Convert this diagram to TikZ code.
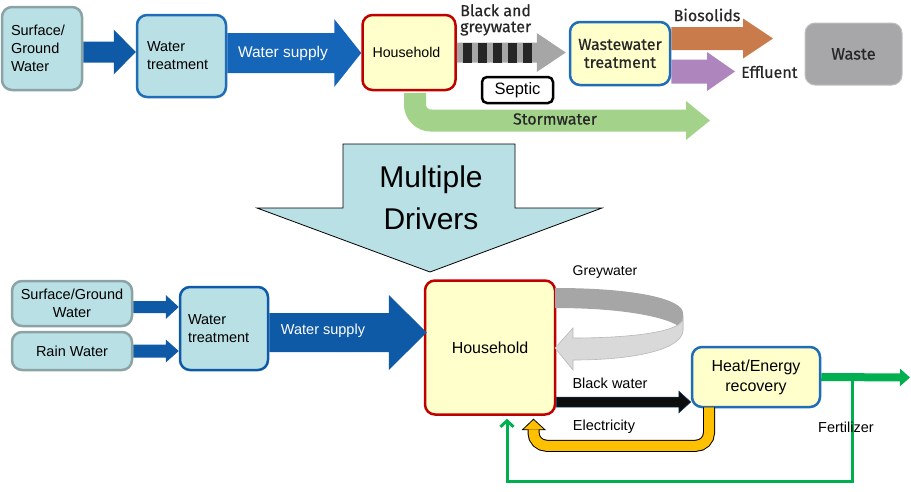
\documentclass[tikz,border=0pt]{standalone}
\usepackage{fontspec}
\setmainfont{Liberation Sans}
\newfontfamily\topfont{Fira Sans}[UprightFeatures={FakeBold=0.5}]
\usetikzlibrary{positioning,calc,arrows.meta}
\definecolor{boxblue}{HTML}{B9E0E4}
\definecolor{boxgray}{HTML}{8CA3A6}
\definecolor{lineblue}{HTML}{1E6DB6}
\definecolor{arrowblue}{HTML}{0F5AA6}
\definecolor{supplyblue}{HTML}{1565B8}
\definecolor{houseyellow}{HTML}{FFFFCC}
\definecolor{housered}{HTML}{C00000}
\definecolor{stormgreen}{HTML}{A3D28A}
\definecolor{bioorange}{HTML}{C97B4B}
\definecolor{efflpurple}{HTML}{AE85BD}
\definecolor{wastegray}{HTML}{A7A7A9}
\definecolor{greydark}{HTML}{A6A6A6}
\definecolor{greylight}{HTML}{D9D9D9}
\definecolor{elecyellow}{HTML}{FFC000}
\definecolor{fertgreen}{HTML}{00B050}
\definecolor{textdark}{HTML}{262626}
% block arrow: style, from, to, shaft half, head half, head length
\newcommand{\barrow}[6]{%
  \path[#1] let \p1=(#2), \p2=(#3) in
    (\x1,\y1+#4pt) -- (\x2-#6pt,\y1+#4pt) -- (\x2-#6pt,\y1+#5pt) -- (\x2,\y1)
    -- (\x2-#6pt,\y1-#5pt) -- (\x2-#6pt,\y1-#4pt) -- (\x1,\y1-#4pt) -- cycle;}

\begin{document}
\begin{tikzpicture}[x=1pt,y=-1pt]
\tikzstyle{box} = [draw, line width=2.5pt, rounded corners=10pt, inner sep=0pt, font=\fontsize{14.5}{18}\selectfont]
\tikzstyle{srcbox} = [box, draw=boxgray, fill=boxblue]
\tikzstyle{treatbox} = [box, draw=lineblue, fill=boxblue]
\tikzstyle{housebox} = [box, draw=housered, fill=houseyellow]
\tikzstyle{lbl} = [inner sep=0pt, font=\fontsize{14.5}{18}\selectfont]
\tikzstyle{toplbl} = [inner sep=0pt, font=\topfont\fontsize{16}{16}\selectfont, text=textdark]
\useasboundingbox (0,0) rectangle (911,491);

% current system
\node[srcbox, text width=62pt, inner xsep=9pt, minimum height=83pt, align=left] (sgw) at (42,48.5) {Surface/\\Ground\\Water};
\node[treatbox, text width=69pt, inner xsep=10pt, minimum height=82pt, align=left] (treat) at (181.5,56) {Water\\treatment\\[4pt]};
\node[housebox, text width=73pt, inner xsep=10pt, minimum height=75pt, align=left, font=\fontsize{14.2}{18}\selectfont] (house) at (409,52.5) {Household};
\node[box, draw=lineblue, fill=houseyellow, minimum width=100pt, minimum height=63pt, align=center, font=\topfont\fontsize{16}{18}\selectfont, text=textdark] (wwt) at (620,53.5) {Wastewater\\treatment};
\node[box, draw=wastegray!70, line width=1pt, fill=wastegray, minimum width=97pt, minimum height=62pt, font=\topfont\fontsize{16.5}{18}\selectfont, text=textdark] (waste) at (853.5,54) {Waste};
\node[box, draw=black, fill=white, rounded corners=5pt, minimum width=71pt, minimum height=26pt, font=\fontsize{16.5}{18}\selectfont] (septic) at (517.5,90) {Septic};

\barrow{fill=arrowblue}{$(sgw.east)+(0,3.5)$}{treat.west}{10.5}{22.5}{22}
\barrow{fill=supplyblue}{$(treat.east)+(0,-3)$}{house.west}{20}{34}{27}
\node[lbl, text=white, font=\fontsize{15.5}{18}\selectfont] (supply) at (283,53) {Water supply};

\barrow{fill=greydark}{house.east}{$(wwt.west)+(-3,0)$}{10}{19.5}{29}
\foreach \s in {0,...,4}
  \fill[black!85] ($(house.east)+(6.5+15*\s,-9.5)$) rectangle ++(8.3,19.5);
\node[toplbl, align=left, anchor=north west] (bgw) at (460,4) {Black and\\greywater};

\coordinate (bioend) at (773,38.5);
\barrow{fill=bioorange}{$(wwt.east)+(0,-15)$}{bioend}{11.5}{20}{30}
\node[toplbl] (bio) at (707,15) {Biosolids};
\node[toplbl, anchor=west] (effl) at (741,72) {Effluent};
\barrow{fill=efflpurple}{$(wwt.east)+(0,18)$}{$(effl.west)+(-6,0)$}{12}{19.5}{28}

\coordinate (stormend) at (686,120.5);
\draw[stormgreen, line width=22pt, rounded corners=16pt] ($(house.south)+(6,1.5)$) |- (stormend);
\fill[stormgreen] ($(stormend)+(0,-19.5)$) -- ($(stormend)+(24,0)$) -- ($(stormend)+(0,19.5)$) -- cycle;
\node[toplbl] (storm) at (555,119) {Stormwater};

% drivers
\draw[fill=boxblue, line width=0.8pt] (343,144) -- (515,144) -- (515,208) -- (602,208) -- (430,272) -- (257,208) -- (343,208) -- cycle;
\node[align=center, font=\fontsize{30}{42}\selectfont] (drv) at (431,198) {Multiple\\Drivers};

% future system
\node[srcbox, minimum width=120pt, minimum height=45pt, align=center] (sgw2) at (72,303.5) {Surface/Ground\\Water};
\node[srcbox, minimum width=120pt, minimum height=38pt] (rain) at (72,351) {Rain Water};
\node[box, draw=arrowblue, fill=boxblue, text width=72pt, inner xsep=8pt, minimum height=83pt, align=left] (treat2) at (224,328.5) {Water\\treatment\\[4pt]};
\node[housebox, minimum width=130pt, minimum height=134pt, font=\fontsize{16}{18}\selectfont] (house2) at (490,347.5) {Household};
\node[box, draw=lineblue, fill=houseyellow, minimum width=128pt, minimum height=60pt, align=center, font=\fontsize{16}{20}\selectfont] (heat) at (756,377) {Heat/Energy\\recovery};

\barrow{fill=arrowblue}{$(sgw2.east)+(0,3.5)$}{treat2.west}{6}{12}{13}
\barrow{fill=arrowblue}{rain.east}{treat2.west}{6.5}{11.5}{13}
\barrow{fill=arrowblue}{$(treat2.east)+(0,4)$}{$(house2.west)+(3,0)$}{19.5}{37.5}{38}
\node[lbl, text=white] (supply2) at (323,331) {Water supply};

% greywater loop
\fill[greydark] (555,288) .. controls (640,288) and (683,300) .. (683,313) -- (683,332) .. controls (683,322) and (640,308) .. (555,308) -- cycle;
\filldraw[fill=greylight, draw=greydark!80, line width=0.6pt] (683,318) .. controls (683,332) and (630,338) .. (573,338) -- (573,328) -- (555,348) -- (573,370) -- (573,360) .. controls (640,360) and (683,348) .. (683,330) -- cycle;
\node[lbl, font=\fontsize{14}{18}\selectfont] (grey) at (605,272) {Greywater};

\barrow{fill=black!95, draw=lineblue!60!black, line width=0.5pt}{$(house2.east)+(0,54.5)$}{heat.west}{5}{11}{12}
\node[lbl] (blk) at (610,383) {Black water};

\coordinate (elA) at ($(heat.south)+(-47,-1)$);
\coordinate (elB) at ($(house2.south)+(43.5,14)$);
\filldraw[fill=elecyellow, draw=black, line width=0.8pt] ($(elB)+(-11,0)$) -- ($(elB)+(0,-10.5)$) -- ($(elB)+(11.5,0)$) -- cycle;
\draw[black, line width=12pt, rounded corners=13pt] (elA) |- ($(elB)+(0,16)$) -- (elB);
\draw[elecyellow, line width=10pt, rounded corners=13pt] (elA) |- ($(elB)+(0,16)$) -- ($(elB)+(0,-0.5)$);
\node[lbl] (elec) at (604,427) {Electricity};

\coordinate (fertend) at (910,377.5);
\draw[fertgreen, line width=8pt, -{Triangle[length=10pt,width=17pt]}] (heat.east) -- (fertend);
\draw[fertgreen, line width=3pt, -{Straight Barb[length=6pt,width=13pt]}] ($(heat.east)+(31.5,0)$) |- ($(house2.south)+(17,65.5)$) -- ($(house2.south)+(17,3)$);
\node[lbl] (fert) at (846,427) {Fertilizer};
\end{tikzpicture}
\end{document}
